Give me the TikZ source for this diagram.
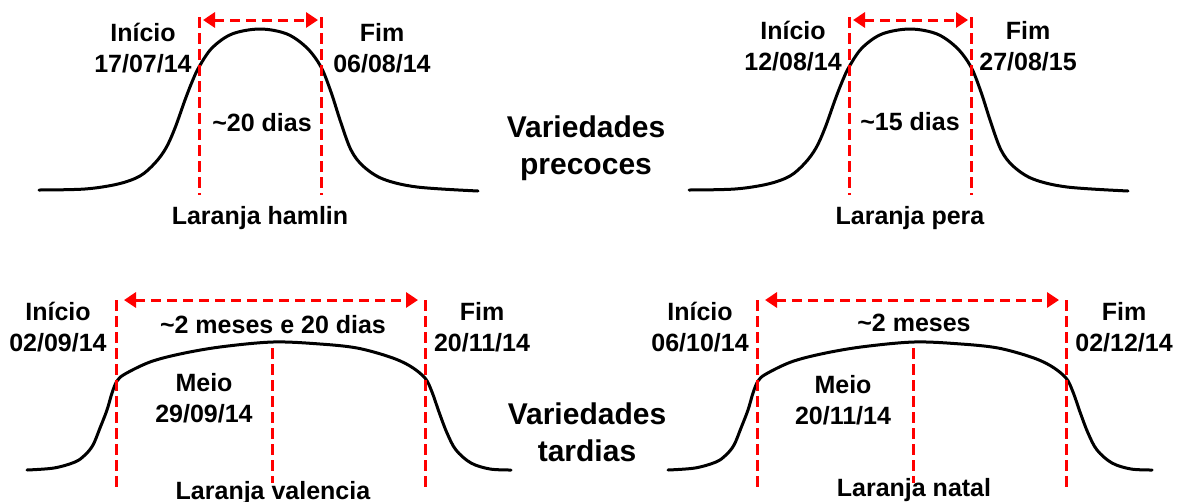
\documentclass[tikz,border=0pt]{standalone}
\usepackage{fontspec}
\setmainfont{Liberation Sans}
\usetikzlibrary{arrows.meta}

\newcommand{\earlybell}{plot[smooth,tension=0.55] coordinates {(39,190) (85,189) (118,184) (140,176)
  (155,163) (166,148) (175,128) (185,100) (192,82) (199,67) (212,48) (232,34) (260,29) (287,34)
  (307,48) (321,67) (331,92) (341,123) (351,150) (363,166) (383,179) (417,187) (478,191)}}
\newcommand{\latebell}{plot[smooth,tension=0.55] coordinates {(27,470) (54,468) (75,462) (85,455)
  (93,445) (100,428) (107,410) (112,393) (117,381) (125,374) (150,362) (180,354) (220,347) (273,342)
  (320,344) (357,348) (390,357) (410,366) (425,378) (432,392) (439,412) (447,433) (456,450)
  (471,463) (490,469) (511,470)}}

\begin{document}
\begin{tikzpicture}[
    x=1pt,y=-1pt,
    lbl/.style={font=\bfseries\fontsize{25}{31}\selectfont,align=center,inner sep=0pt},
    grp/.style={font=\bfseries\fontsize{30}{37}\selectfont,align=center,inner sep=0pt},
    bell/.style={line width=3pt,line cap=round,line join=round},
    datebar/.style={red,line width=3pt,dash pattern=on 11pt off 5pt},
    span/.style={red,line width=3pt,dash pattern=on 10pt off 6pt,
                 {Triangle[length=12pt,width=15pt]}-{Triangle[length=12pt,width=15pt]}}
  ]
    \useasboundingbox (0,0) rectangle (1180,501);

    % laranja hamlin
    \begin{scope}
      \draw[bell] \earlybell;
      \draw[datebar] (199,17) -- (199,195);
      \draw[datebar] (321,17) -- (321,195);
      \coordinate (hamL) at (203,20);
      \coordinate (hamR) at (318,20);
      \draw[span] (hamL) -- (hamR);
      \node[lbl] (hamIni) at (143,48) {Início\\17/07/14};
      \node[lbl] (hamFim) at (382,48) {Fim\\06/08/14};
      \node[lbl] (hamDur) at (262,123) {\textasciitilde20 dias};
      \node[lbl] (hamName) at (260,218) {Laranja hamlin};
    \end{scope}

    % laranja pera
    \begin{scope}[xshift=650]
      \draw[bell] \earlybell;
      \draw[datebar] (199,17) -- (199,195);
      \draw[datebar] (321,17) -- (321,195);
      \coordinate (perL) at (203,20);
      \coordinate (perR) at (318,20);
      \draw[span] (perL) -- (perR);
      \node[lbl] (perIni) at (143,46) {Início\\12/08/14};
      \node[lbl] (perFim) at (378,46) {Fim\\27/08/15};
      \node[lbl] (perDur) at (260,122) {\textasciitilde15 dias};
      \node[lbl] (perName) at (260,218) {Laranja pera};
    \end{scope}

    % laranja valencia
    \begin{scope}
      \draw[bell] \latebell;
      \draw[datebar] (116,300) -- (116,490);
      \draw[datebar] (425,300) -- (425,490);
      \draw[datebar] (272,348) -- (272,483);
      \coordinate (valL) at (124,300);
      \coordinate (valR) at (418,300);
      \draw[span] (valL) -- (valR);
      \node[lbl] (valIni) at (58,327) {Início\\02/09/14};
      \node[lbl] (valMei) at (204,398) {Meio\\29/09/14};
      \node[lbl] (valFim) at (482,327) {Fim\\20/11/14};
      \node[lbl] (valDur) at (273,325) {\textasciitilde2 meses e 20 dias};
      \node[lbl,anchor=base] (valName) at (273,499) {Laranja valencia};
    \end{scope}

    % laranja natal
    \begin{scope}[xshift=641]
      \draw[bell] \latebell;
      \draw[datebar] (116,300) -- (116,490);
      \draw[datebar] (425,300) -- (425,490);
      \draw[datebar] (272,348) -- (272,483);
      \coordinate (natL) at (124,300);
      \coordinate (natR) at (418,300);
      \draw[span] (natL) -- (natR);
      \node[lbl] (natIni) at (59,327) {Início\\06/10/14};
      \node[lbl] (natMei) at (202,400) {Meio\\20/11/14};
      \node[lbl] (natFim) at (483,327) {Fim\\02/12/14};
      \node[lbl] (natDur) at (273,323) {\textasciitilde2 meses};
      \node[lbl,anchor=base] (natName) at (273,496) {Laranja natal};
    \end{scope}

    \node[grp] (prec) at (586,148) {Variedades\\precoces};
    \node[grp] (tard) at (587,432) {Variedades\\tardias};
  \end{tikzpicture}
\end{document}
